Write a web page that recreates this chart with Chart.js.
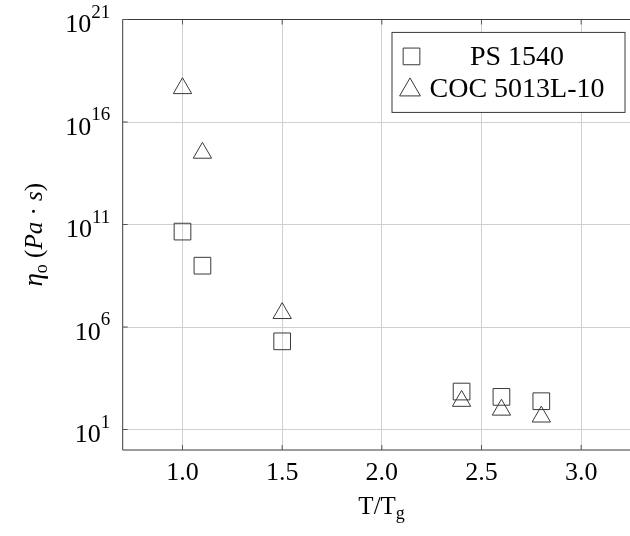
<!DOCTYPE html>
<html>
<head>
<meta charset="utf-8">
<script src="https://cdn.jsdelivr.net/npm/chart.js@4"></script>
<style>
html,body{margin:0;padding:0;background:#fff;overflow:hidden}
#wrap{width:630px;height:536px;position:relative}
</style>
</head>
<body>
<div id="wrap"><canvas id="c" width="630" height="536"></canvas></div>
<script>
// data
const tgRatio = [1.0, 1.1, 1.5, 2.4, 2.6, 2.8];
const ps1540 = [4.5e10, 9.8e8, 2.0e5, 710, 390, 240];
const coc5013 = [4.4e17, 3.1e14, 4.7e6, 245, 91, 42];
const seriesNames = ["PS 1540", "COC 5013L-10"];
const xTicks = [1.0, 1.5, 2.0, 2.5, 3.0];
const yTickExps = [1, 6, 11, 16, 21];

const SERIF = '"Liberation Serif", "DejaVu Serif", serif';
const INK = "#3a3a3a";

const pts = (ys) => tgRatio.map((x, i) => ({x, y: ys[i]}));

// axis frame, ticks, labels, legend
// (the original plot box runs past the right edge of the picture, so no right side)
const decor = {
  id: "decor",
  afterDraw(chart){
    const ctx = chart.ctx;
    const a = chart.chartArea;
    const sx = chart.scales.x, sy = chart.scales.y;
    ctx.save();

    // frame: left, top, bottom
    ctx.strokeStyle = INK;
    ctx.lineWidth = 1;
    ctx.beginPath();
    ctx.moveTo(a.right + 2, a.top); ctx.lineTo(a.left, a.top);
    ctx.lineTo(a.left, a.bottom); ctx.lineTo(a.right + 2, a.bottom);
    ctx.stroke();

    // inner tick marks
    ctx.strokeStyle = "#555";
    ctx.beginPath();
    xTicks.forEach(v=>{
      const px = sx.getPixelForValue(v);
      ctx.moveTo(px, a.bottom); ctx.lineTo(px, a.bottom - 5);
      ctx.moveTo(px, a.top); ctx.lineTo(px, a.top + 5);
    });
    yTickExps.forEach(e=>{
      const py = sy.getPixelForValue(Math.pow(10, e));
      ctx.moveTo(a.left, py); ctx.lineTo(a.left + 5, py);
    });
    ctx.stroke();

    // x tick labels
    ctx.fillStyle = "#000";
    ctx.textBaseline = "alphabetic";
    ctx.textAlign = "center";
    ctx.font = "26px " + SERIF;
    xTicks.forEach(v=>{
      ctx.fillText(v.toFixed(1), sx.getPixelForValue(v), a.bottom + 30);
    });

    // y tick labels 10^n
    ctx.textAlign = "left";
    yTickExps.forEach(e=>{
      const py = sy.getPixelForValue(Math.pow(10, e));
      const ex = String(e);
      ctx.font = "19px " + SERIF;
      const we = ctx.measureText(ex).width;
      ctx.font = "26px " + SERIF;
      const wb = ctx.measureText("10").width;
      const right = a.left - 12.5;
      ctx.fillText("10", right - we - wb, py + 12.5);
      ctx.font = "19px " + SERIF;
      ctx.fillText(ex, right - we, py - 2);
    });

    // x title T/T_g, centred on the full plot box
    ctx.font = "25px " + SERIF;
    const wT = ctx.measureText("T/T").width;
    ctx.font = "18px " + SERIF;
    const wg = ctx.measureText("g").width;
    const cx = (a.left + a.right + 10.5) / 2;
    let x0 = cx - (wT + wg) / 2;
    ctx.font = "25px " + SERIF;
    ctx.fillText("T/T", x0, 514);
    ctx.font = "18px " + SERIF;
    ctx.fillText("g", x0 + wT, 519);

    // y title
    const parts = [
      {t:"\u03B7", f:"italic 27px " + SERIF, dy:0},
      {t:"o", f:"18px " + SERIF, dy:5},
      {t:" (", f:"25px " + SERIF, dy:0},
      {t:"Pa", f:"italic 25px " + SERIF, dy:0},
      {t:" \u00B7 ", f:"25px " + SERIF, dy:0},
      {t:"s", f:"italic 25px " + SERIF, dy:0},
      {t:")", f:"25px " + SERIF, dy:0}
    ];
    let total = 0;
    parts.forEach(p=>{ ctx.font = p.f; p.w = ctx.measureText(p.t).width; total += p.w; });
    ctx.translate(42, (a.top + a.bottom) / 2);
    ctx.rotate(-Math.PI / 2);
    let tx = -total / 2;
    parts.forEach(p=>{ ctx.font = p.f; ctx.fillText(p.t, tx, p.dy); tx += p.w; });
    ctx.setTransform(1, 0, 0, 1, 0, 0);

    // legend box (north east)
    const H = a.bottom - a.top;
    const bw = 233, bh = 80;
    const br = a.right - 5, bt = a.top + 0.03 * H;
    const bl = br - bw;
    ctx.fillStyle = "#fff";
    ctx.fillRect(bl, bt, bw, bh);
    ctx.strokeStyle = INK;
    ctx.lineWidth = 1;
    ctx.strokeRect(bl, bt, bw, bh);

    const styles = [
      {ps:"rect", r:11.8, mx:bl + 19.5, my:bt + 24},
      {ps:"triangle", r:12, mx:bl + 18, my:bt + 57.5}
    ];
    ctx.fillStyle = "rgba(0,0,0,0)";
    styles.forEach(s=>{
      ctx.strokeStyle = INK;
      ctx.lineWidth = 1;
      Chart.helpers.drawPoint(ctx, {pointStyle:s.ps, radius:s.r, rotation:0, borderWidth:1}, s.mx, s.my);
    });
    ctx.fillStyle = "#000";
    ctx.textAlign = "center";
    ctx.font = "28px " + SERIF;
    const tcx = bl + 125;
    ctx.fillText(seriesNames[0], tcx, bt + 32.5);
    ctx.fillText(seriesNames[1], tcx, bt + 64.5);

    ctx.restore();
  }
};

new Chart(document.getElementById("c"), {
  type: "scatter",
  data: {
    datasets: [
      {label: seriesNames[0], data: pts(ps1540), pointStyle: "rect", pointRadius: 11.8,
       borderColor: INK, backgroundColor: "rgba(0,0,0,0)", borderWidth: 1, showLine: false},
      {label: seriesNames[1], data: pts(coc5013), pointStyle: "triangle", pointRadius: 10.6,
       borderColor: INK, backgroundColor: "rgba(0,0,0,0)", borderWidth: 1, showLine: false}
    ]
  },
  options: {
    responsive: false,
    animation: false,
    devicePixelRatio: 1,
    layout: {autoPadding: false, padding: {top: 19.5, right: 0, left: 0, bottom: 0}},
    plugins: {legend: {display: false}, tooltip: {enabled: false}},
    scales: {
      x: {
        type: "linear", min: 0.7, max: 3.245,
        afterBuildTicks: (s)=>{ s.ticks = xTicks.map(v=>({value:v})); },
        afterFit: (s)=>{ s.height = 86; },
        ticks: {display: false},
        grid: {color: "#cfcfcf", lineWidth: 1, drawTicks: false},
        border: {display: false}
      },
      y: {
        type: "logarithmic", min: 1, max: 1e21,
        afterBuildTicks: (s)=>{ s.ticks = yTickExps.map(e=>({value:Math.pow(10, e)})); },
        afterFit: (s)=>{ s.width = 122.7; },
        ticks: {display: false},
        grid: {color: "#cfcfcf", lineWidth: 1, drawTicks: false},
        border: {display: false}
      }
    }
  },
  plugins: [decor]
});
</script>
</body>
</html>
